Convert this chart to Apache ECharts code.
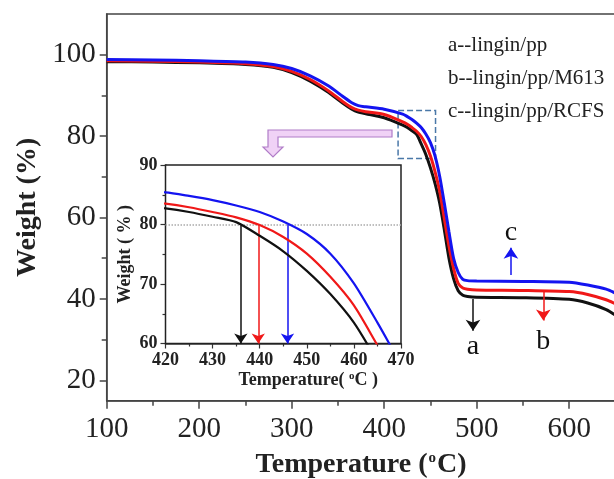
<!DOCTYPE html>
<html>
<head>
<meta charset="utf-8">
<script src="https://cdn.jsdelivr.net/npm/echarts@6/dist/echarts.min.js"></script>
<style>
  html, body { margin: 0; padding: 0; background: #fff; }
  #chart { width: 614px; height: 479px; }
</style>
</head>
<body>
<div id="chart"></div>
<script>
// TGA curves
var temps = [100, 150, 200, 250, 280, 300, 320, 340, 355, 365, 372, 380, 400, 420, 425, 430, 435, 440, 445, 450, 455, 460, 465, 470, 475, 480, 485, 490, 500, 550, 600, 620, 640, 650];
var weightA = [98.3, 98.2, 98.0, 97.6, 96.9, 95.6, 93.5, 90.7, 88.1, 86.6, 85.9, 85.5, 84.5, 82.7, 82.1, 81.3, 80.4, 78.1, 75.5, 72.2, 68.3, 63.5, 57.0, 50.0, 45.0, 42.0, 40.9, 40.6, 40.4, 40.3, 39.9, 39.0, 37.4, 36.0];
var weightB = [98.5, 98.4, 98.2, 97.8, 97.1, 95.9, 93.9, 91.1, 88.5, 87.0, 86.4, 86.0, 85.3, 83.5, 82.9, 82.1, 81.2, 79.9, 77.9, 75.1, 71.2, 66.4, 59.7, 53.0, 47.5, 43.8, 42.7, 42.4, 42.2, 42.1, 41.8, 41.1, 39.8, 38.8];
var weightC = [98.8, 98.7, 98.5, 98.2, 97.6, 96.6, 94.8, 92.3, 89.8, 88.2, 87.5, 87.2, 86.6, 85.4, 84.8, 84.1, 83.2, 82.1, 80.5, 78.4, 75.1, 70.1, 63.5, 56.5, 50.0, 46.5, 44.8, 44.5, 44.4, 44.3, 44.1, 43.4, 42.4, 41.4];

var names = ["a--lingin/pp", "b--lingin/pp/M613", "c--lingin/pp/RCFS"];
var letters = ["a", "b", "c"];
var colors = ["#111111", "#f01818", "#1414f0"];

// main plot arrows: temperature, start weight, end weight, label weight
var arrowTemp = [496, 572, 537];
var arrowFrom = [40.0, 41.8, 45.9];
var arrowTo = [32.2, 34.7, 52.6];
var letterWeight = [28.3, 29.6, 56.3];

// inset: temperature where each curve crosses 80 %
var crossTemp = [436, 439.7, 445.9];
var crossLevel = 80;

var yLabels = [20, 40, 60, 80, 100];
var yMinor = [30, 50, 70, 90];
var zoomBox = [[415, 86.3], [455.5, 74.5]];

var serif = "Liberation Serif";

function pairs(w) {
  return temps.map(function (t, i) { return [t, w[i]]; });
}

var series = [];
for (var i = 0; i < 3; i++) {
  var main = {
    name: names[i],
    type: "line",
    xAxisIndex: 0,
    yAxisIndex: 0,
    data: pairs([weightA, weightB, weightC][i]),
    showSymbol: false,
    smooth: 0.25,
    z: 3 + i,
    lineStyle: { width: 3, color: colors[i] },
    itemStyle: { color: colors[i] },
    markLine: {
      silent: true,
      symbol: ["none", "arrow"],
      symbolSize: 11,
      label: { show: false },
      lineStyle: { color: colors[i], width: 1.5, type: "solid" },
      data: [[{ coord: [arrowTemp[i], arrowFrom[i]] }, { coord: [arrowTemp[i], arrowTo[i]] }]]
    },
    markPoint: {
      silent: true,
      symbol: "circle",
      symbolSize: 0,
      label: {
        show: true,
        position: "inside",
        formatter: letters[i],
        fontFamily: serif,
        fontSize: 28,
        color: "#111"
      },
      data: [{ coord: [arrowTemp[i], letterWeight[i]] }]
    }
  };
  if (i === 2) {
    main.markArea = {
      silent: true,
      itemStyle: { color: "rgba(0,0,0,0)", borderColor: "#4a78a8", borderWidth: 1.5, borderType: "dashed" },
      data: [[{ coord: zoomBox[0] }, { coord: zoomBox[1] }]]
    };
  }
  series.push(main);
}

for (var j = 0; j < 3; j++) {
  var lines = [[{ coord: [crossTemp[j], crossLevel] }, { coord: [crossTemp[j], 60] }]];
  if (j === 0) {
    lines.push([
      { coord: [420, crossLevel], symbol: "none", lineStyle: { color: "#aaa", type: "dotted", width: 1.5 } },
      { coord: [470, crossLevel], symbol: "none", lineStyle: { color: "#aaa", type: "dotted", width: 1.5 } }
    ]);
  }
  series.push({
    name: names[j],
    type: "line",
    xAxisIndex: 1,
    yAxisIndex: 2,
    data: pairs([weightA, weightB, weightC][j]),
    showSymbol: false,
    smooth: 0.25,
    clip: true,
    z: 10 + j,
    lineStyle: { width: 2.2, color: colors[j] },
    itemStyle: { color: colors[j] },
    markLine: {
      silent: true,
      symbol: ["none", "arrow"],
      symbolSize: 10,
      label: { show: false },
      lineStyle: { color: colors[j], width: 1.5, type: "solid" },
      data: lines
    }
  });
}

var axisLine = { show: true, lineStyle: { color: "#444", width: 1.5 } };

var chart = echarts.init(document.getElementById("chart"));
chart.setOption({
  animation: false,
  backgroundColor: "#fff",
  legend: {
    data: names,
    orient: "vertical",
    left: 438,
    top: 30,
    icon: "none",
    itemWidth: 0,
    itemHeight: 14,
    itemGap: 12,
    selectedMode: false,
    textStyle: { fontFamily: serif, fontSize: 21, color: "#222" }
  },
  grid: [
    { left: 106.7, top: 14, width: 508.75, height: 386.7, outerBoundsMode: "none", show: true, borderColor: "#444", borderWidth: 1.5, backgroundColor: "transparent" },
    { left: 165.5, top: 165, width: 235.5, height: 178.5, outerBoundsMode: "none", show: true, borderColor: "#222", borderWidth: 1.5, backgroundColor: "#fff", z: 5 }
  ],
  xAxis: [
    {
      type: "value", gridIndex: 0, min: 100, max: 650, interval: 100,
      name: "Temperature ({s|o}C)", nameLocation: "middle", nameGap: 50,
      nameTextStyle: {
        fontFamily: serif, fontWeight: "bold", fontSize: 28, color: "#222",
        rich: { s: { fontFamily: serif, fontWeight: "bold", fontSize: 15, verticalAlign: "top", padding: [0, 1, 13, 1] } }
      },
      axisLine: axisLine,
      axisTick: { show: true, inside: false, length: 8, lineStyle: { color: "#444", width: 1.5 } },
      minorTick: { show: true, splitNumber: 2, length: 5, lineStyle: { color: "#444", width: 1.5 } },
      axisLabel: {
        margin: 14, fontFamily: serif, fontSize: 29, color: "#222",
        formatter: function (v) { return v % 100 === 0 && v < 650 ? String(v) : ""; }
      },
      splitLine: { show: false }
    },
    {
      type: "value", gridIndex: 1, min: 420, max: 470, interval: 10,
      name: "Temperature( {s|o}C )", nameLocation: "middle", nameGap: 24,
      nameTextStyle: {
        fontFamily: serif, fontWeight: "bold", fontSize: 18, color: "#222",
        padding: [0, 0, 0, 50],
        rich: { s: { fontFamily: serif, fontWeight: "bold", fontSize: 11, verticalAlign: "top", padding: [0, 0, 8, 0] } }
      },
      axisLine: axisLine,
      axisTick: { show: true, length: 5, lineStyle: { color: "#333", width: 1.2 } },
      minorTick: { show: true, splitNumber: 2, length: 3, lineStyle: { color: "#333", width: 1.2 } },
      axisLabel: { margin: 8, fontFamily: serif, fontWeight: "bold", fontSize: 18, color: "#222" },
      splitLine: { show: false }
    }
  ],
  yAxis: [
    {
      type: "value", gridIndex: 0, min: 15, max: 110,
      name: "Weight (%)", nameLocation: "middle", nameGap: 63,
      nameTextStyle: { fontFamily: serif, fontWeight: "bold", fontSize: 28, color: "#222" },
      axisLine: axisLine,
      axisTick: { show: true, length: 7, customValues: yLabels, lineStyle: { color: "#444", width: 1.5 } },
      axisLabel: { margin: 11, fontFamily: serif, fontSize: 29, color: "#222", customValues: yLabels },
      splitLine: { show: false }
    },
    {
      type: "value", gridIndex: 0, min: 15, max: 110, position: "left",
      axisLine: { show: false },
      axisTick: { show: true, length: 5, customValues: yMinor, lineStyle: { color: "#444", width: 1.5 } },
      axisLabel: { show: false },
      splitLine: { show: false }
    },
    {
      type: "value", gridIndex: 1, min: 60, max: 90, interval: 10,
      name: "Weight ( % )", nameLocation: "middle", nameGap: 31,
      nameTextStyle: { fontFamily: serif, fontWeight: "bold", fontSize: 18, color: "#222" },
      axisLine: axisLine,
      axisTick: { show: true, length: 5, lineStyle: { color: "#333", width: 1.2 } },
      minorTick: { show: true, splitNumber: 2, length: 3, lineStyle: { color: "#333", width: 1.2 } },
      axisLabel: { margin: 8, fontFamily: serif, fontWeight: "bold", fontSize: 18, color: "#222" },
      splitLine: { show: false }
    }
  ],
  graphic: [
    {
      type: "polygon",
      z: 100,
      shape: {
        points: [[392, 130], [268, 130], [268, 147], [263, 147], [273, 157], [283, 147], [278, 147], [278, 137], [392, 137]]
      },
      style: { fill: "#f0d2f6", stroke: "#b07cc8", lineWidth: 1.2 }
    }
  ],
  series: series
});
</script>
</body>
</html>
